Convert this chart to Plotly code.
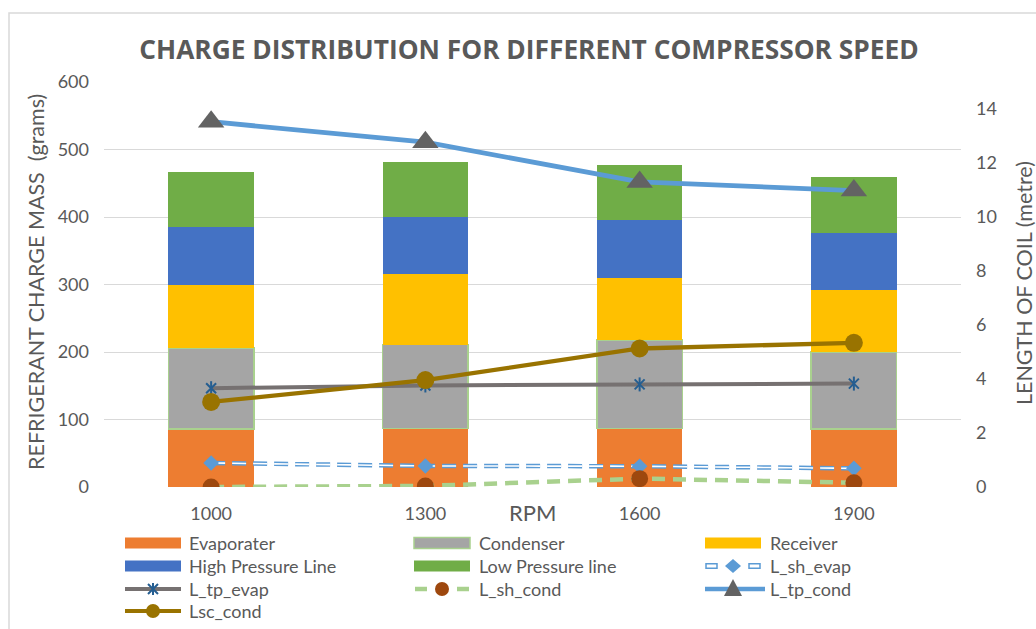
import plotly.graph_objects as go

# ---- data -------------------------------------------------------------
rpm = ["1000", "1300", "1600", "1900"]

# refrigerant charge mass per component (grams), stacked bars
evaporater = [86, 87, 87, 86]
condenser = [120, 124, 131, 114]
receiver = [94, 105, 92, 92]
high_pressure_line = [85, 84, 85, 85]
low_pressure_line = [81, 82, 82, 82]

# coil lengths (metre), right axis
l_sh_evap = [0.89, 0.78, 0.77, 0.69]
l_tp_evap = [3.66, 3.76, 3.80, 3.83]
l_sh_cond = [0.0, 0.04, 0.31, 0.16]
l_tp_cond = [13.53, 12.77, 11.30, 10.98]
lsc_cond = [3.15, 3.96, 5.13, 5.34]

# ---- style ------------------------------------------------------------
W, H = 1036, 629
PL, PR, PT, PB = 104, 75, 82, 142
TXT = "#595959"
GRID = "#D9D9D9"
FONT = "Lato"

C_EVAP = "#ED7D31"
C_COND = "#A5A5A5"
C_COND_EDGE = "#A9D18E"
C_RECV = "#FFC000"
C_HPL = "#4472C4"
C_LPL = "#70AD47"
C_SH_EVAP = "#5B9BD5"
C_TP_EVAP = "#767171"
C_STAR = "#255E91"
C_SH_COND = "#A9D18E"
C_SH_COND_MK = "#9E480E"
C_TP_COND = "#5B9BD5"
C_TRI = "#636363"
C_SC_COND = "#997300"


def px_x(x):
    return (x - PL) / (W - PL - PR)


def px_y(y):
    return (H - PB - y) / (H - PT - PB)


fig = go.Figure()

# ---- stacked bars (left axis) -----------------------------------------
bar_series = [
    ("Evaporater", evaporater, C_EVAP, None),
    ("Condenser", condenser, C_COND, C_COND_EDGE),
    ("Receiver", receiver, C_RECV, None),
    ("High Pressure Line", high_pressure_line, C_HPL, None),
    ("Low Pressure line", low_pressure_line, C_LPL, None),
]
for name, vals, col, edge in bar_series:
    fig.add_trace(go.Bar(
        x=rpm, y=vals, name=name,
        marker=dict(color=col,
                    line=dict(color=edge if edge else col, width=1.5 if edge else 0)),
        yaxis="y", showlegend=False,
    ))

# ---- coil length lines (right axis) -----------------------------------
DASH = "14px,7px"

# L_sh_evap: hollow dashed line (blue outline, white core) with diamonds
fig.add_trace(go.Scatter(x=rpm, y=l_sh_evap, yaxis="y2", mode="lines",
                         line=dict(color=C_SH_EVAP, width=4.5, dash=DASH),
                         name="L_sh_evap", showlegend=False))
fig.add_trace(go.Scatter(x=rpm, y=l_sh_evap, yaxis="y2", mode="lines",
                         line=dict(color="white", width=1.6, dash=DASH),
                         showlegend=False, hoverinfo="skip"))
fig.add_trace(go.Scatter(x=rpm, y=l_sh_evap, yaxis="y2", mode="markers",
                         marker=dict(symbol="diamond", size=12, color=C_SH_EVAP),
                         showlegend=False, hoverinfo="skip"))

# L_tp_evap: grey line with star markers
fig.add_trace(go.Scatter(x=rpm, y=l_tp_evap, yaxis="y2", mode="lines",
                         line=dict(color=C_TP_EVAP, width=4),
                         name="L_tp_evap", showlegend=False))
for sym in ("x-thin-open", "line-ns-open"):
    fig.add_trace(go.Scatter(x=rpm, y=l_tp_evap, yaxis="y2", mode="markers",
                             marker=dict(symbol=sym, size=10, color=C_STAR,
                                         line=dict(color=C_STAR, width=2)),
                             showlegend=False, hoverinfo="skip"))

# L_sh_cond: light green dashed line with brown circles
fig.add_trace(go.Scatter(x=rpm, y=l_sh_cond, yaxis="y2", mode="lines+markers",
                         line=dict(color=C_SH_COND, width=4.5, dash="13px,8px"),
                         marker=dict(symbol="circle", size=17, color=C_SH_COND_MK),
                         name="L_sh_cond", showlegend=False))

# L_tp_cond: blue line with grey triangles
fig.add_trace(go.Scatter(x=rpm, y=l_tp_cond, yaxis="y2", mode="lines+markers",
                         line=dict(color=C_TP_COND, width=4.8),
                         marker=dict(symbol="triangle-up", size=23, color=C_TRI),
                         name="L_tp_cond", showlegend=False))

# Lsc_cond: dark gold line with circles
fig.add_trace(go.Scatter(x=rpm, y=lsc_cond, yaxis="y2", mode="lines+markers",
                         line=dict(color=C_SC_COND, width=4.3),
                         marker=dict(symbol="circle", size=18, color=C_SC_COND),
                         name="Lsc_cond", showlegend=False))

# ---- layout -----------------------------------------------------------
shapes = []
annotations = []

# outer chart frame
shapes.append(dict(type="rect", xref="paper", yref="paper",
                   x0=px_x(9), y0=px_y(13), x1=px_x(1050), y1=px_y(650),
                   line=dict(color=GRID, width=1.5), fillcolor="rgba(0,0,0,0)",
                   layer="below"))

# hand-built legend: 3 columns x 4 rows
col_key_x = [125, 414, 705]
col_text_x = [187, 477, 768]
row_y = [543, 566, 589, 611]
KEY_W = 56

legend_items = [
    ("Evaporater", "bar", dict(fill=C_EVAP)),
    ("Condenser", "bar", dict(fill=C_COND, edge=C_COND_EDGE)),
    ("Receiver", "bar", dict(fill=C_RECV)),
    ("High Pressure Line", "bar", dict(fill=C_HPL)),
    ("Low Pressure line", "bar", dict(fill=C_LPL)),
    ("L_sh_evap", "sh_evap", {}),
    ("L_tp_evap", "tp_evap", {}),
    ("L_sh_cond", "sh_cond", {}),
    ("L_tp_cond", "tp_cond", {}),
    ("Lsc_cond", "sc_cond", {}),
]


def pix_shape(ax, ay, **kw):
    d = dict(xref="paper", yref="paper", xsizemode="pixel", ysizemode="pixel",
             xanchor=px_x(ax), yanchor=px_y(ay))
    d.update(kw)
    return d


for i, (label, kind, st) in enumerate(legend_items):
    c, r = i % 3, i // 3
    kx, ky = col_key_x[c], row_y[r]
    mx = kx + KEY_W / 2
    if kind == "bar":
        edge = st.get("edge")
        shapes.append(pix_shape(kx, ky, type="rect", x0=0, x1=KEY_W, y0=-5.5, y1=5.5,
                                fillcolor=st["fill"],
                                line=dict(color=edge if edge else st["fill"],
                                          width=1.5 if edge else 0)))
    elif kind == "sh_evap":
        for x0, x1 in ((1, 12), (KEY_W - 12, KEY_W - 1)):
            shapes.append(pix_shape(kx, ky, type="rect", x0=x0, x1=x1, y0=-2.2, y1=2.2,
                                    fillcolor="white", line=dict(color=C_SH_EVAP, width=1.5)))
        shapes.append(pix_shape(mx, ky, type="path", path="M-8,0 L0,7 L8,0 L0,-7 Z",
                                fillcolor=C_SH_EVAP, line=dict(width=0)))
    elif kind == "tp_evap":
        shapes.append(pix_shape(kx, ky, type="line", x0=0, x1=KEY_W, y0=0, y1=0,
                                line=dict(color=C_TP_EVAP, width=4)))
        shapes.append(pix_shape(mx, ky, type="path",
                                path="M-5,-5 L5,5 M-5,5 L5,-5 M0,-6 L0,6",
                                line=dict(color=C_STAR, width=2)))
    elif kind == "sh_cond":
        for x0, x1 in ((1, 13), (KEY_W - 13, KEY_W - 1)):
            shapes.append(pix_shape(kx, ky, type="line", x0=x0, x1=x1, y0=0, y1=0,
                                    line=dict(color=C_SH_COND, width=4.5)))
        shapes.append(pix_shape(mx, ky, type="circle", x0=-7, x1=7, y0=-7, y1=7,
                                fillcolor=C_SH_COND_MK, line=dict(width=0)))
    elif kind == "tp_cond":
        shapes.append(pix_shape(kx, ky, type="line", x0=0, x1=KEY_W + 4, y0=0, y1=0,
                                line=dict(color=C_TP_COND, width=4.5)))
        shapes.append(pix_shape(mx, ky, type="path", path="M-9,-7 L9,-7 L0,10 Z",
                                fillcolor=C_TRI, line=dict(width=0)))
    elif kind == "sc_cond":
        shapes.append(pix_shape(kx, ky, type="line", x0=0, x1=KEY_W, y0=0, y1=0,
                                line=dict(color=C_SC_COND, width=4)))
        shapes.append(pix_shape(mx, ky, type="circle", x0=-7, x1=7, y0=-7, y1=7,
                                fillcolor=C_SC_COND, line=dict(width=0)))
    annotations.append(dict(xref="paper", yref="paper", x=px_x(col_text_x[c]),
                            y=px_y(ky), xanchor="left", yanchor="middle",
                            text=label, showarrow=False,
                            font=dict(family=FONT, size=18, color=TXT)))

# axis titles and the RPM caption
annotations.append(dict(xref="paper", yref="paper", x=px_x(36), y=px_y(282),
                        text="REFRIGERANT CHARGE MASS&nbsp;&nbsp;(grams)", textangle=-90,
                        showarrow=False, xanchor="center", yanchor="middle",
                        font=dict(family=FONT, size=21.5, color=TXT)))
annotations.append(dict(xref="paper", yref="paper", x=px_x(1024), y=px_y(283),
                        text="LENGTH OF COIL (metre)", textangle=-90,
                        showarrow=False, xanchor="center", yanchor="middle",
                        font=dict(family=FONT, size=21.5, color=TXT)))
annotations.append(dict(xref="paper", yref="paper", x=px_x(532), y=px_y(512),
                        text="RPM", showarrow=False, xanchor="center", yanchor="middle",
                        font=dict(family=FONT, size=22, color=TXT)))

fig.update_layout(
    width=W, height=H,
    margin=dict(l=PL, r=PR, t=PT, b=PB, pad=0),
    paper_bgcolor="white", plot_bgcolor="white",
    barmode="stack", bargap=0.6,
    showlegend=False,
    title=dict(text="CHARGE DISTRIBUTION FOR DIFFERENT COMPRESSOR SPEED",
               x=529 / W, xanchor="center", y=1 - 50 / H, yanchor="middle",
               font=dict(family="Open Sans", size=26.3, weight=700, color=TXT)),
    xaxis=dict(type="category", showgrid=False, zeroline=False, showline=False,
               ticks="", ticklabelstandoff=14,
               tickfont=dict(family=FONT, size=18, color=TXT)),
    yaxis=dict(range=[0, 600], dtick=100, showgrid=True, gridcolor=GRID, gridwidth=1.3,
               zeroline=False, showline=False, ticks="", ticklabelstandoff=14,
               tickfont=dict(family=FONT, size=18, color=TXT)),
    yaxis2=dict(range=[0, 15], tickvals=[0, 2, 4, 6, 8, 10, 12, 14], overlaying="y",
                side="right", showgrid=False, zeroline=False, showline=False, ticks="",
                ticklabelstandoff=14,
                tickfont=dict(family=FONT, size=18, color=TXT)),
    shapes=shapes,
    annotations=annotations,
)

fig.write_html("out.html")
